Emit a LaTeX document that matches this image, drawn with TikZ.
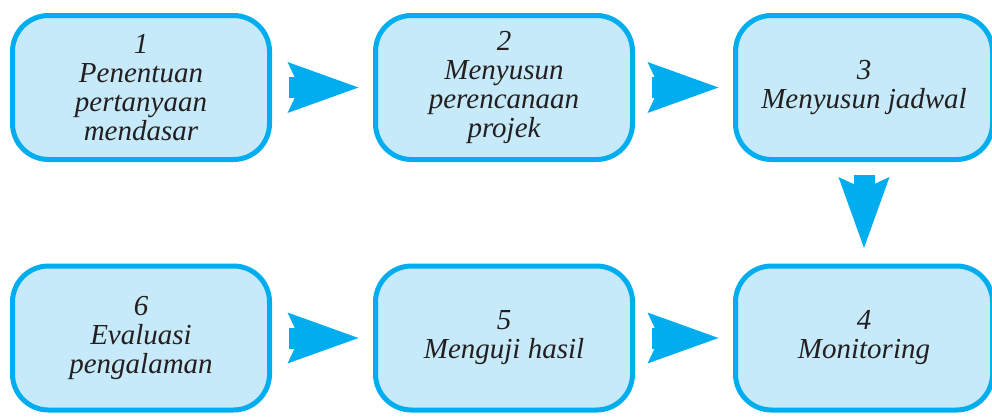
\documentclass[tikz,border=0pt]{standalone}
\usepackage{fontspec}
\setmainfont{Liberation Serif}
\usetikzlibrary{arrows.meta,positioning}
\definecolor{tahapline}{RGB}{0,174,239}
\definecolor{tahapfill}{RGB}{199,234,250}
\definecolor{tahaptext}{RGB}{35,31,32}

\begin{document}
\begin{tikzpicture}[x=1pt, y=-1pt,
    tahap/.style={draw=tahapline, fill=tahapfill, line width=5pt, rounded corners=36pt,
      minimum width=257pt, minimum height=144pt, align=center, text=tahaptext,
      font=\fontsize{29}{29}\selectfont\itshape},
    panah/.style={draw=tahapline, line width=21pt,
      -{Stealth[length=71pt, width=51pt, inset=12pt, line width=0pt, fill=tahapline]}}
  ]
      \useasboundingbox (0, 0) rectangle (992, 416);
      \node[tahap] (b1) at (141, 87.5) {1\\Penentuan\\pertanyaan\\mendasar};
      \node[tahap] (b2) at (504, 87.5) {2\\Menyusun\\perencanaan\\projek};
      \node[tahap] (b3) at (864, 87.5) {3\\Menyusun jadwal};
      \node[tahap] (b6) at (141, 338) {6\\Evaluasi\\pengalaman};
      \node[tahap] (b5) at (504, 338) {5\\Menguji hasil};
      \node[tahap] (b4) at (864, 338) {4\\Monitoring};

      \draw[panah, shorten <=16.5pt, shorten >=14.5pt] (b1.east) -- (b2.west);
      \draw[panah, shorten <=16.5pt, shorten >=14.5pt] (b2.east) -- (b3.west);
      \draw[panah, shorten <=13pt, shorten >=15.5pt] (b3.south) -- (b4.north);
      \draw[panah, shorten <=16.5pt, shorten >=14.5pt] (b6.east) -- (b5.west);
      \draw[panah, shorten <=16.5pt, shorten >=14.5pt] (b5.east) -- (b4.west);
\end{tikzpicture}
\end{document}
